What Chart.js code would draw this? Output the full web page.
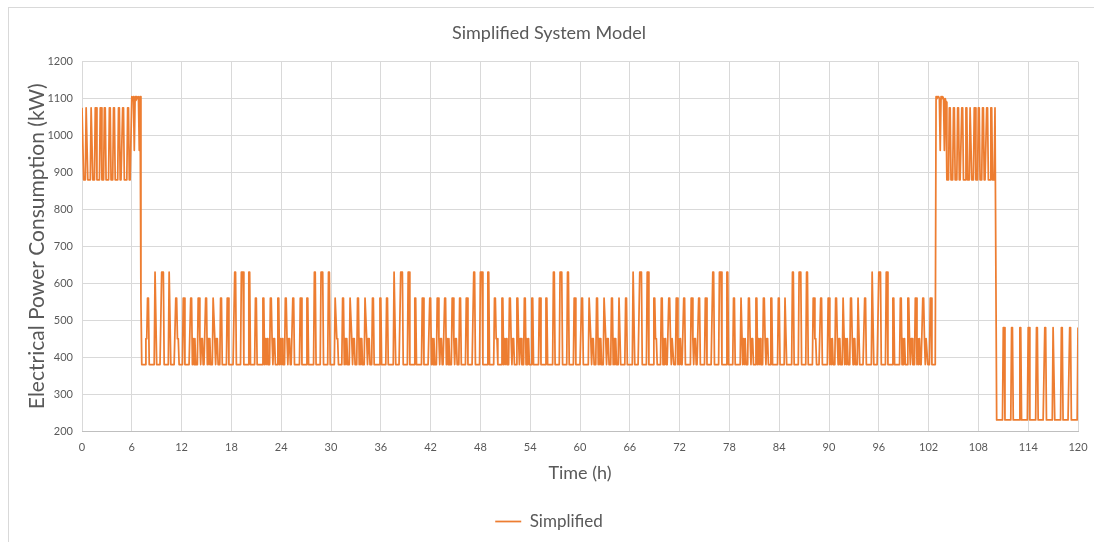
<!DOCTYPE html>
<html lang="en">
<head>
    <meta charset="UTF-8">
    <title>Simplified System Model</title>
    <script src="https://cdn.jsdelivr.net/npm/chart.js"></script>
    <style>
        body { margin: 0; background: #fff; }
        .frame { position: absolute; left: 8px; top: 7px; width: 1200px; height: 700px; border: 1px solid #d9d9d9; }
        #powerChart { position: absolute; left: 0; top: 0; }
    </style>
</head>
<body>
    <div class="frame"></div>
    <canvas id="powerChart" width="1094" height="542"></canvas>

    <script>
        // one reading every 0.1 h, from 0 h to 120 h
        const STEP_H = 0.1;
        const powerKW = [
            // 0 - 5.9 h
            1075,1075,880,880,880, 1075,1075,880,880,880,880, 1075,1075,880,880,880, 1075,1075,880,880,880,880, 1075,1075,880,880,880, 1075,1075,880,880,880,880, 1075,1075,880,880,880, 1075,1075,880,880,880,880, 1075,1075,880,880,880, 1075,1075,880,880,880,880, 1075,1075,880,880,880,
            // 6.0 - 7.2 h
            1105,1095,1105,960,1105,1095,1105,1100,1105,960,1105, 555,380,
            // 7.3 - 8.6 h
            380,380,380,380,450,450,560,560,380,380,380,380,380,380,
            // 8.7 h
            380,630,630,380,380,380,380,380, 380,630,630,630,380,380,380,380,380, 380,630,630,380,380,380,380,380, 380,560,560,450,450,380,380,380,380, 380,560,560,380,380,380,380,380,380, 380,560,560,380,450,380,450,380,380, 380,560,560,450,380,450,450,380,380, 380,560,560,380,450,380,450,380,380, 380,560,560,450,380,450,450,380,380, 380,560,560,380,380,380,380,380, 380,560,560,380,380,380,380,380,380,
            // 18.3 h
            380,630,630,380,380,380,380,380, 380,630,630,630,380,380,380,380,380, 380,630,630,380,380,380,380,380, 380,560,560,380,380,380,380,380,380, 380,560,560,380,450,380,450,380,380, 380,560,560,450,380,450,450,380,380, 380,560,560,380,450,380,450,380,380, 380,560,560,450,380,450,450,380,380, 380,560,560,380,380,380,380,380,380, 380,560,560,380,380,380,380,380, 380,560,560,380,380,380,380,380,380,
            // 27.9 h
            380,630,630,380,380,380,380,380, 380,630,630,630,380,380,380,380,380, 380,630,630,380,380,380,380,380, 380,560,560,450,450,380,380,380,380, 380,560,560,380,450,380,450,380,380, 380,560,560,450,380,450,450,380,380, 380,560,560,380,450,380,450,380,380, 380,560,560,450,380,450,450,380,380, 380,560,560,380,380,380,380,380,380, 380,560,560,380,380,380,380,380, 380,560,560,380,380,380,380,380,380,
            // 37.5 h
            380,630,630,380,380,380,380,380, 380,630,630,630,380,380,380,380,380, 380,630,630,380,380,380,380,380, 380,560,560,380,380,380,380,380,380, 380,560,560,380,380,380,380,380,380, 380,560,560,380,450,380,450,380,380, 380,560,560,450,380,450,450,380,380, 380,560,560,380,450,380,450,380,380, 380,560,560,450,380,450,450,380,380, 380,560,560,380,380,380,380,380, 380,560,560,380,380,380,380,380,380,
            // 47.1 h
            380,630,630,380,380,380,380,380, 380,630,630,630,380,380,380,380,380, 380,630,630,380,380,380,380,380, 380,560,560,450,450,380,380,380,380, 380,560,560,380,450,380,450,380,380, 380,560,560,450,380,450,450,380,380, 380,560,560,450,380,450,450,380,380, 380,560,560,380,450,380,450,380,380, 380,560,560,380,380,380,380,380,380, 380,560,560,380,380,380,380,380, 380,560,560,380,380,380,380,380,380,
            // 56.7 h
            380,630,630,380,380,380,380,380, 380,630,630,630,380,380,380,380,380, 380,630,630,380,380,380,380,380, 380,560,560,380,380,380,380,380,380, 380,560,560,380,380,380,380,380,380, 380,560,560,450,380,450,450,380,380, 380,560,560,380,450,380,450,380,380, 380,560,560,450,380,450,450,380,380, 380,560,560,380,450,380,450,380,380, 380,560,560,380,380,380,380,380, 380,560,560,380,380,380,380,380,380,
            // 66.3 h
            380,630,630,380,380,380,380,380, 380,630,630,630,380,380,380,380,380, 380,630,630,380,380,380,380,380, 380,560,560,450,450,380,380,380,380, 380,560,560,380,450,380,450,380,380, 380,560,560,450,380,450,450,380,380, 380,560,560,380,450,380,450,380,380, 380,560,560,380,380,380,380,380,380, 380,560,560,450,380,450,450,380,380, 380,560,560,380,380,380,380,380, 380,560,560,380,380,380,380,380,380,
            // 75.9 h
            380,630,630,380,380,380,380,380, 380,630,630,630,380,380,380,380,380, 380,630,630,380,380,380,380,380, 380,560,560,380,380,380,380,380,380, 380,560,560,380,450,380,450,380,380, 380,560,560,450,380,450,450,380,380, 380,560,560,380,450,380,450,380,380, 380,560,560,450,380,450,450,380,380, 380,560,560,380,380,380,380,380,380, 380,560,560,380,380,380,380,380, 380,560,560,380,380,380,380,380,380,
            // 85.5 h
            380,630,630,380,380,380,380,380, 380,630,630,630,380,380,380,380,380, 380,630,630,380,380,380,380,380, 380,560,560,450,450,380,380,380,380, 380,560,560,380,380,380,380,380,380, 380,560,560,380,450,380,450,380,380, 380,560,560,450,380,450,450,380,380, 380,560,560,380,450,380,450,380,380, 380,560,560,450,380,450,450,380,380, 380,560,560,380,380,380,380,380, 380,560,560,380,380,380,380,380,380,
            // 95.1 - 102.8 h
            380,630,630,380,380,380,380,380, 380,630,630,630,380,380,380,380,380, 380,630,630,380,380,380,380,380, 380,560,560,380,380,380,380,380,380, 380,560,560,380,450,380,450,380,380, 380,560,560,450,380,450,450,380,380, 380,560,560,380,450,380,450,380,380, 380,560,560,450,380,450,450,380,380, 380,560,560,380,380,380,380,380,
            // 102.9 - 104.1 h
            1105,1100,1105,1105,1100,960,1105,1100,1105,1100,960,1100,1090,
            // 104.2 - 110.1 h
            880,880,880,1075,1075, 880,880,880,1075,1075, 880,880,880,1075,1075, 880,880,880,1075,1075, 880,880,880,1075,1075, 880,880,880,1075,1075, 880,880,880,1075,1075, 880,880,880,1075,1075, 880,880,880,1075,1075, 880,880,880,1075,1075, 880,880,880,1075,1075, 880,880,880,1075,1075,
            // 110.2 - 120.0 h
            230,230,230,230,230,230,230,230, 480,480,230,230,230,230,230,230,230,230, 480,480,230,230,230,230,230,230,230,230, 480,480,230,230,230,230,230,230,230,230, 480,480,230,230,230,230,230,230,230,230, 480,480,230,230,230,230,230,230,230,230, 480,480,230,230,230,230,230,230,230,230, 480,480,230,230,230,230,230,230,230,230, 480,480,230,230,230,230,230,230,230,230, 480,480,230,230,230,230,230,230,230,230, 480
        ];
        const timeTicks = [0, 6, 12, 18, 24, 30, 36, 42, 48, 54, 60, 66, 72, 78, 84, 90, 96, 102, 108, 114, 120];
        const powerTicks = [200, 300, 400, 500, 600, 700, 800, 900, 1000, 1100, 1200];

        const textColor = '#595959';
        const gridColor = '#d9d9d9';
        const fontFamily = 'Lato, "Open Sans", sans-serif';

        const points = powerKW.map((v, i) => ({ x: Math.round(i * STEP_H * 10) / 10, y: v }));

        const ctx = document.getElementById('powerChart').getContext('2d');
        new Chart(ctx, {
            type: 'line',
            data: {
                datasets: [{
                    label: 'Simplified',
                    data: points,
                    borderColor: '#ED7D31',
                    backgroundColor: '#ED7D31',
                    borderWidth: 1.75,
                    borderJoinStyle: 'round',
                    pointRadius: 0,
                    tension: 0,
                    fill: false
                }]
            },
            options: {
                responsive: false,
                animation: false,
                devicePixelRatio: 1,
                layout: { padding: { left: 20, right: 16, top: 0, bottom: 2 } },
                plugins: {
                    title: {
                        display: true,
                        text: 'Simplified System Model',
                        color: textColor,
                        font: { family: fontFamily, size: 18, weight: 'normal' },
                        padding: { top: 22, bottom: 18 }
                    },
                    legend: {
                        position: 'bottom',
                        labels: {
                            usePointStyle: true,
                            pointStyle: 'line',
                            pointStyleWidth: 26,
                            color: textColor,
                            font: { family: fontFamily, size: 17 }
                        }
                    },
                    tooltip: { enabled: false }
                },
                scales: {
                    x: {
                        type: 'linear',
                        min: 0,
                        max: 120,
                        afterBuildTicks: scale => { scale.ticks = timeTicks.map(v => ({ value: v })); },
                        afterFit: scale => { scale.height = 72; scale.paddingRight = 0; scale.paddingLeft = 0; },
                        ticks: { color: textColor, font: { family: fontFamily, size: 11 }, maxRotation: 0, autoSkip: false, padding: 10 },
                        grid: { color: gridColor, drawTicks: false },
                        border: { color: '#bfbfbf' },
                        title: { display: true, text: 'Time (h)', color: textColor, font: { family: fontFamily, size: 18 }, padding: { top: 19, bottom: 19 } }
                    },
                    y: {
                        min: 200,
                        max: 1200,
                        afterBuildTicks: scale => { scale.ticks = powerTicks.map(v => ({ value: v })); },
                        afterFit: scale => { scale.width = 62; },
                        ticks: { color: textColor, font: { family: fontFamily, size: 11 }, padding: 9, callback: v => String(v) },
                        grid: { color: gridColor, drawTicks: false },
                        border: { display: false },
                        title: { display: true, text: 'Electrical Power Consumption (kW)', color: textColor, font: { family: fontFamily, size: 21 }, padding: { top: 5, bottom: 4 } }
                    }
                }
            }
        });
    </script>
</body>
</html>
